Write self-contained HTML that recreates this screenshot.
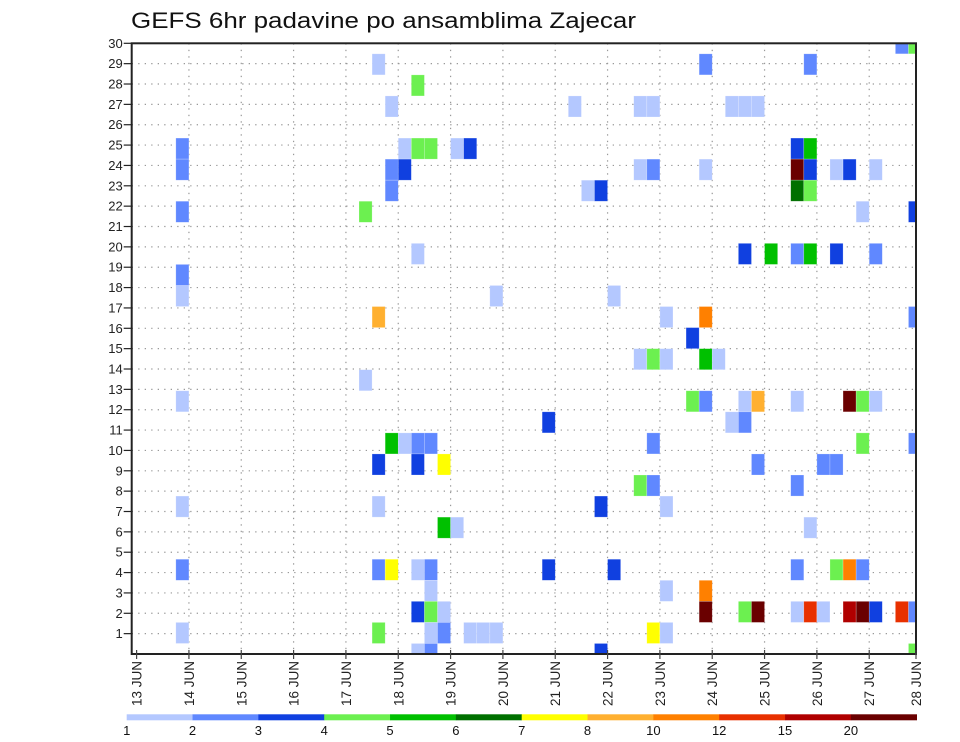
<!DOCTYPE html>
<html><head><meta charset="utf-8"><style>
html,body{margin:0;padding:0;background:#fff;}
svg{display:block;font-family:"Liberation Sans",sans-serif;}
</style></head><body>
<svg id="chart" width="960" height="742" viewBox="0 0 960 742" xmlns="http://www.w3.org/2000/svg">
<rect width="960" height="742" fill="#fff"/>
<text x="131" y="28" font-size="22" textLength="505" lengthAdjust="spacingAndGlyphs" fill="#111">GEFS 6hr padavine po ansamblima Zajecar</text>
<defs><clipPath id="plotclip"><rect x="131.7" y="43.3" width="784.3" height="610.7"/></clipPath></defs>
<g id="grid"></g>
<g id="cells" clip-path="url(#plotclip)"></g>
<g id="axes"></g>
<g id="colorbar"></g>
</svg>
<script>
// data
const dayLabels = ["13 JUN","14 JUN","15 JUN","16 JUN","17 JUN","18 JUN","19 JUN","20 JUN","21 JUN","22 JUN","23 JUN","24 JUN","25 JUN","26 JUN","27 JUN","28 JUN"];
const memberTicks = [1,2,3,4,5,6,7,8,9,10,11,12,13,14,15,16,17,18,19,20,21,22,23,24,25,26,27,28,29,30];
const levelLabels = ["1","2","3","4","5","6","7","8","10","12","15","20"];
const levelColors = ["#b4c8ff","#6088ff","#1040e0","#6cf050","#00c000","#007000","#ffff00","#ffb030","#ff8000","#e83000","#b00000","#6a0000"];
// cells: 6-hour step index (from 13 JUN 00Z), member slot, color level
const cellStep = [19,22,20,4,4,21,22,23,25,26,20,20,21,4,18,22,4,4,28,19,
59,60,44,52,34,39,40,46,47,48,51,52,39,40,44,51,52,54,55,57,35,36,51,52,56,60,47,49,51,52,54,57,37,41,44,60,43,
39,40,41,44,45,43,44,47,48,51,55,56,57,32,46,47,40,56,60,48,53,54,39,40,51,36,41,52,32,37,51,54,55,56,41,44,
44,47,48,51,52,53,55,56,57,59,60,40,41,36,60,
18,4,20,21,22,23,19,22,24,4,19,24,25,4,19,20,22,23,23,22,23,24,4,19,23,24,26,27,28,22,23];
const cellMember = [28,27,26,24,23,24,24,24,24,24,23,22,23,21,21,19,18,17,17,16,
29,29,28,28,26,26,26,26,26,26,24,24,23,23,23,23,23,23,23,23,22,22,22,22,21,21,19,19,19,19,19,19,17,16,16,16,15,
14,14,14,14,14,12,12,12,12,12,12,12,12,11,11,11,10,10,10,9,9,9,8,8,8,7,7,6,4,4,4,4,4,4,3,3,
2,2,2,2,2,2,2,2,2,2,2,1,1,0,0,
13,12,10,10,10,10,9,9,9,7,7,6,6,4,4,4,4,4,3,2,2,2,1,1,1,1,1,1,1,0,0];
const cellLevel = [0,3,0,1,1,0,3,3,0,2,1,1,2,1,3,0,1,0,0,7,
1,3,1,1,0,0,0,0,0,0,2,4,0,1,0,11,2,0,2,0,0,2,5,3,0,2,2,4,1,4,2,1,0,0,8,1,2,
0,3,0,4,0,3,1,0,7,0,11,3,0,2,0,1,1,3,1,1,1,1,3,1,1,2,0,0,2,2,1,3,8,1,0,8,
11,3,11,0,9,0,10,11,2,9,1,6,0,2,3,
0,0,4,0,1,1,2,2,6,0,0,4,0,1,1,6,0,1,0,2,3,0,0,3,0,1,0,0,0,0,1];

const NS="http://www.w3.org/2000/svg";
const L=131.7,R=916,T=43.3,B=654;
const x0=136.6, dayW=52.33, stepW=dayW/4;
const xDay = d => x0 + d*dayW;
const xStep = s => x0 + s*stepW;
const yTick = m => T + (30-m)*(B-T)/30;
const slotH = (B-T)/29;
const ySlot = k => B - k*slotH;
function mk(tag, attrs, parent){const e=document.createElementNS(NS,tag);for(const k in attrs)e.setAttribute(k,attrs[k]);parent.appendChild(e);return e;}

const grid=document.getElementById('grid'),cells=document.getElementById('cells'),axes=document.getElementById('axes'),cb=document.getElementById('colorbar');
// grid lines
memberTicks.forEach(m=>{
  const y=yTick(m);
  const g=mk('line',{x1:L,x2:R,y1:y,y2:y,stroke:'#999','stroke-width':1.2,'stroke-dasharray':'1.3 5.2'},grid);
  
  
});
dayLabels.forEach((d,i)=>{
  if(i===0||i===dayLabels.length-1) return;
  const x=xDay(i);
  const g=mk('line',{x1:x,x2:x,y1:T,y2:B,stroke:'#999','stroke-width':1.2,'stroke-dasharray':'1.3 5.2'},grid);
  
  
});
// cells
cellStep.forEach((s,j)=>{
  const k=cellMember[j], c=cellLevel[j];
  const r=mk('rect',{x:xStep(s-1),y:ySlot(k)-slotH/2,width:stepW,height:slotH,fill:levelColors[c],stroke:'rgba(255,255,255,0.35)','stroke-width':0.6},cells);
  
  
});
// axes frame
const fr=mk('rect',{x:L,y:T,width:R-L,height:B-T,fill:'none',stroke:'#222','stroke-width':2},axes);


memberTicks.forEach(m=>{
  const y=yTick(m);
  mk('line',{x1:L-8,x2:L,y1:y,y2:y,stroke:'#222','stroke-width':1.2},axes);
  const t=mk('text',{x:L-9,y:y+4.5,'font-size':13,'text-anchor':'end',fill:'#222'},axes);
  t.textContent=m;
  
  
});
dayLabels.forEach((d,i)=>{
  const x = i===dayLabels.length-1 ? R : xDay(i);
  mk('line',{x1:x,x2:x,y1:B-4,y2:B+5,stroke:'#444','stroke-width':1.2},axes);
  const t=mk('text',{x:0,y:0,'font-size':13.5,'text-anchor':'end',fill:'#222',transform:`translate(${x+5},${B+7}) rotate(-90)`},axes);
  t.textContent=d;
  
  
});
// colorbar
const cbL=126.7, cbR=916.7, segW=(cbR-cbL)/levelColors.length;
levelColors.forEach((c,i)=>{
  const r=mk('rect',{x:cbL+i*segW,y:714.3,width:segW+0.3,height:6,fill:c},cb);
  
  
  const t=mk('text',{x:cbL+i*segW,y:735,'font-size':13,'text-anchor':'middle',fill:'#111'},cb);
  t.textContent=levelLabels[i];
  
  
});
</script>
</body></html>
